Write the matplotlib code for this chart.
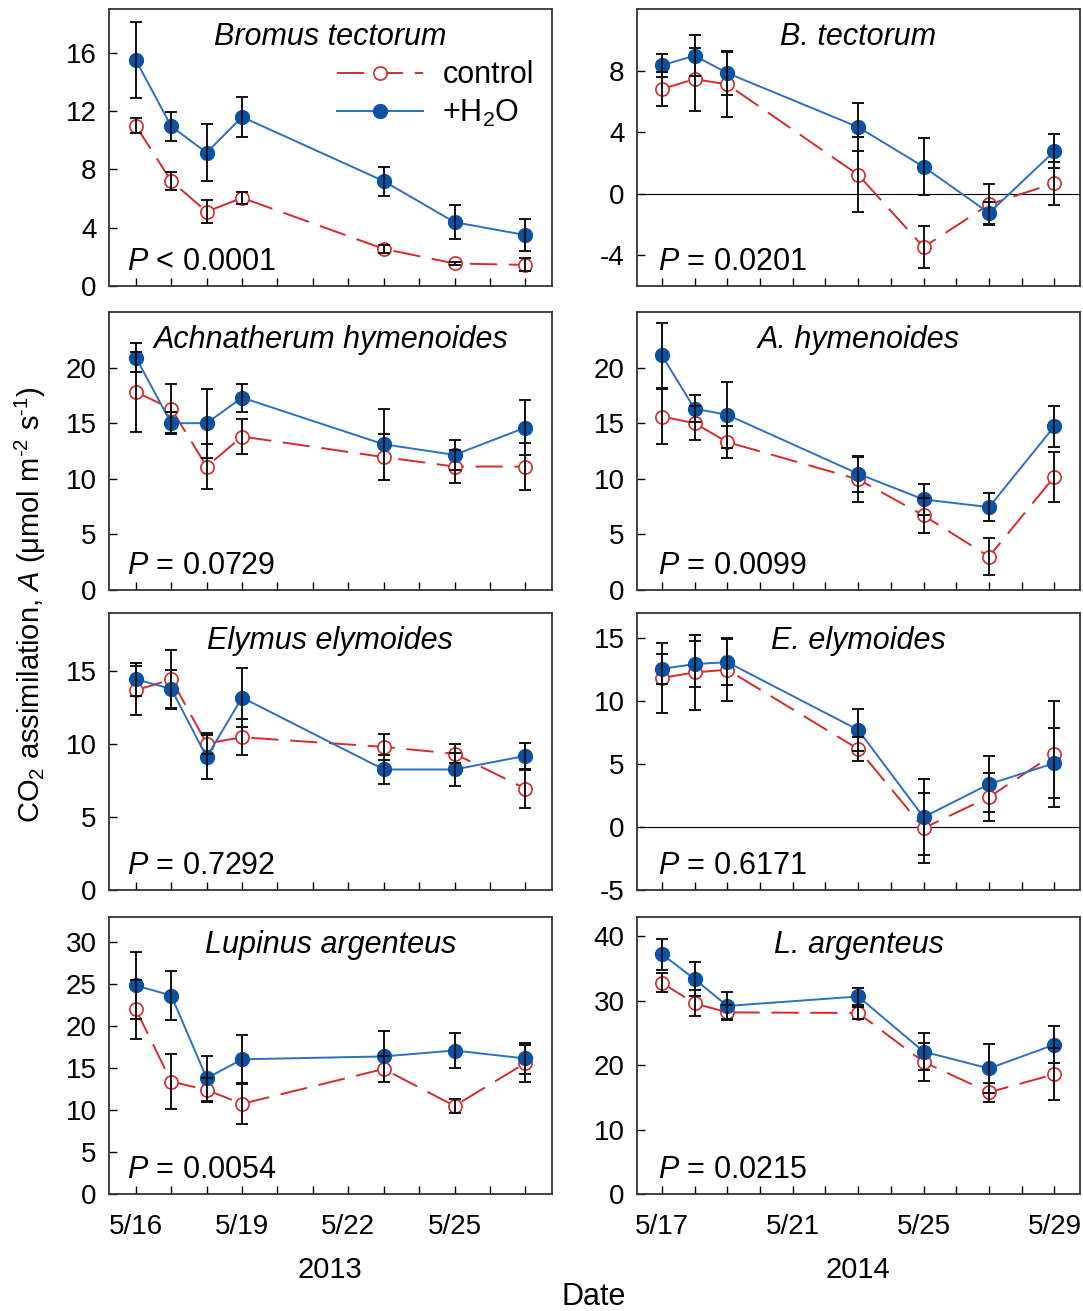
import matplotlib
matplotlib.use("Agg")
import matplotlib.pyplot as plt
import matplotlib.transforms as mtransforms
from matplotlib.ticker import FixedLocator

plt.rcParams['font.family'] = ['Liberation Sans', 'DejaVu Sans']
plt.rcParams['mathtext.fontset'] = 'custom'
plt.rcParams['mathtext.rm'] = 'Liberation Sans'
plt.rcParams['mathtext.it'] = 'Liberation Sans:italic'
plt.rcParams['axes.unicode_minus'] = False

# Measurement dates (day of May)
days_2013 = [16, 17, 18, 19, 23, 25, 27]
days_2014 = [17, 18, 19, 23, 25, 27, 29]

species_2013 = ["Bromus tectorum", "Achnatherum hymenoides", "Elymus elymoides", "Lupinus argenteus"]
species_2014 = ["B. tectorum", "A. hymenoides", "E. elymoides", "L. argenteus"]

# 2013 means and SE: control and watered (+H2O)
ctrl_2013 = [
    [11.0, 7.2, 5.1, 6.05, 2.55, 1.55, 1.45],
    [17.8, 16.3, 11.1, 13.8, 11.95, 11.1, 11.1],
    [13.7, 14.45, 10.05, 10.48, 9.82, 9.35, 6.96],
    [22.0, 13.4, 12.4, 10.75, 14.9, 10.5, 15.6],
]
ctrl_se_2013 = [
    [0.5, 0.6, 0.8, 0.4, 0.3, 0.12, 0.45],
    [3.6, 2.2, 2.0, 1.55, 2.1, 1.5, 2.15],
    [1.7, 2.0, 0.7, 1.25, 0.9, 0.65, 1.3],
    [3.55, 3.3, 1.4, 2.45, 1.6, 0.8, 2.2],
]
wet_2013 = [
    [15.5, 10.95, 9.15, 11.6, 7.2, 4.38, 3.5],
    [20.9, 15.0, 15.0, 17.3, 13.1, 12.15, 14.6],
    [14.45, 13.8, 9.12, 13.2, 8.27, 8.27, 9.2],
    [24.85, 23.65, 13.8, 16.05, 16.4, 17.1, 16.15],
]
wet_se_2013 = [
    [2.6, 1.0, 1.95, 1.35, 1.0, 1.15, 1.1],
    [1.3, 1.0, 3.1, 1.25, 3.2, 1.35, 2.5],
    [1.15, 1.3, 1.5, 2.0, 1.0, 1.1, 0.9],
    [3.95, 2.9, 2.7, 2.9, 3.0, 2.1, 1.85],
]

# 2014 means and SE
ctrl_2014 = [
    [6.8, 7.45, 7.1, 1.23, -3.47, -0.7, 0.69],
    [15.6, 15.0, 13.3, 9.95, 6.7, 3.0, 10.2],
    [11.85, 12.28, 12.5, 6.2, -0.08, 2.38, 5.82],
    [32.8, 29.6, 28.2, 28.1, 20.5, 15.8, 18.6],
]
ctrl_se_2014 = [
    [1.1, 2.05, 2.1, 2.45, 1.38, 1.3, 1.4],
    [2.5, 1.55, 1.45, 2.0, 1.55, 1.7, 2.25],
    [2.8, 3.0, 2.5, 0.95, 2.75, 1.9, 4.2],
    [1.45, 2.0, 1.1, 0.9, 2.95, 1.5, 4.0],
]
wet_2014 = [
    [8.34, 8.97, 7.84, 4.33, 1.75, -1.25, 2.76],
    [21.1, 16.3, 15.75, 10.45, 8.14, 7.45, 14.73],
    [12.57, 12.94, 13.1, 7.72, 0.79, 3.41, 5.08],
    [37.25, 33.37, 29.2, 30.67, 22.1, 19.5, 23.2],
]
wet_se_2014 = [
    [0.75, 1.35, 1.45, 1.55, 1.85, 0.7, 1.1],
    [2.95, 1.2, 3.0, 1.6, 1.4, 1.25, 1.85],
    [1.17, 1.8, 1.8, 1.65, 3.0, 2.2, 2.8],
    [2.4, 2.6, 2.2, 1.3, 2.9, 3.8, 2.9],
]

p_2013 = ["$P$ < 0.0001", "$P$ = 0.0729", "$P$ = 0.7292", "$P$ = 0.0054"]
p_2014 = ["$P$ = 0.0201", "$P$ = 0.0099", "$P$ = 0.6171", "$P$ = 0.0215"]

ylims_2013 = [(0, 19), (0, 25), (0, 19), (0, 33)]
yticks_2013 = [[0, 4, 8, 12, 16], [0, 5, 10, 15, 20], [0, 5, 10, 15], [0, 5, 10, 15, 20, 25, 30]]
ylims_2014 = [(-6, 12), (0, 25), (-5, 17), (0, 43)]
yticks_2014 = [[-4, 0, 4, 8], [0, 5, 10, 15, 20], [-5, 0, 5, 10, 15], [0, 10, 20, 30, 40]]

xlim_2013 = (15.24, 27.75)
xlim_2014 = (16.24, 29.78)
ticks_2013 = list(range(16, 28))
ticks_2014 = list(range(17, 30))
labeled_2013 = [16, 19, 22, 25]
labeled_2014 = [17, 21, 25, 29]

BLUE = "#0a52a4"
BLUE_LINE = "#2a6fc0"
RED = "#d42a2a"

fig = plt.figure(figsize=(10.83, 13.11), dpi=100)

row_bottoms = [0.7818, 0.5500, 0.3211, 0.0892]
row_heights = [0.2113, 0.2120, 0.2113, 0.2113]
col_lefts = [0.1006, 0.5882]
col_width = 0.409

# date labels sit slightly left of their tick marks
label_shift = mtransforms.ScaledTranslation(-0.08, 0, fig.dpi_scale_trans)


def draw_panel(ax, days, ctrl, ctrl_se, wet, wet_se, ylim, yticks, xlim, ticks,
               labeled, title, ptext, show_xlabels, zero_line, px):
    if zero_line:
        ax.axhline(0, color="black", lw=0.8, zorder=1)
    ctrl_line, = ax.plot(days, ctrl, color=RED, lw=1.4, marker="o", ms=9.5,
                         mfc="white", mec=RED, mew=1.2, zorder=3, label="control")
    ctrl_line.set_dashes((14, 6))
    wet_line, = ax.plot(days, wet, color=BLUE_LINE, lw=1.4, marker="o", ms=10,
                        mfc=BLUE, mec=BLUE, zorder=4, label="+H$_2$O")
    ax.errorbar(days, ctrl, yerr=ctrl_se, fmt="none", ecolor="#111111",
                elinewidth=1.4, capsize=4.5, capthick=1.4, zorder=5)
    ax.errorbar(days, wet, yerr=wet_se, fmt="none", ecolor="#111111",
                elinewidth=1.4, capsize=4.5, capthick=1.4, zorder=5)
    ax.set_xlim(*xlim)
    ax.set_ylim(*ylim)
    ax.set_yticks(yticks)
    ax.xaxis.set_major_locator(FixedLocator(ticks))
    if show_xlabels:
        ax.set_xticklabels([f"5/{d}" if d in labeled else "" for d in ticks])
        for lbl in ax.get_xticklabels():
            lbl.set_transform(lbl.get_transform() + label_shift)
    else:
        ax.set_xticklabels([])
    ax.tick_params(direction="in", length=6, width=1, labelsize=20, colors="black",
                   pad=9)
    ax.tick_params(axis="x", pad=14)
    for s in ax.spines.values():
        s.set_linewidth(1.3)
        s.set_color("#333333")
    ax.text(0.5, 0.9, title, transform=ax.transAxes, ha="center", va="center",
            fontsize=22, style="italic")
    ax.text(px, 0.058, ptext, transform=ax.transAxes, ha="left", va="baseline",
            fontsize=22)
    return ctrl_line, wet_line


for i in range(4):
    ax_l = fig.add_axes([col_lefts[0], row_bottoms[i], col_width, row_heights[i]])
    handles = draw_panel(ax_l, days_2013, ctrl_2013[i], ctrl_se_2013[i], wet_2013[i],
                         wet_se_2013[i], ylims_2013[i], yticks_2013[i], xlim_2013,
                         ticks_2013, labeled_2013, species_2013[i], p_2013[i],
                         i == 3, False, 0.040)
    if i == 0:
        ax_l.legend(handles=list(handles), loc="upper left",
                    bbox_to_anchor=(0.515, 0.815), frameon=False, fontsize=22,
                    handlelength=2.8, handletextpad=0.65, borderpad=0,
                    borderaxespad=0, labelspacing=0.25, numpoints=1)
    ax_r = fig.add_axes([col_lefts[1], row_bottoms[i], col_width, row_heights[i]])
    draw_panel(ax_r, days_2014, ctrl_2014[i], ctrl_se_2014[i], wet_2014[i],
               wet_se_2014[i], ylims_2014[i], yticks_2014[i], xlim_2014,
               ticks_2014, labeled_2014, species_2014[i], p_2014[i],
               i == 3, i in (0, 2), 0.048)

fig.text(0.305, 1 - 1270 / 1311, "2013", ha="center", va="center", fontsize=21)
fig.text(0.792, 1 - 1270 / 1311, "2014", ha="center", va="center", fontsize=21)
fig.text(0.548, 1 - 1297 / 1311, "Date", ha="center", va="center", fontsize=22)
fig.text(0.028, 1 - 605 / 1311,
         "CO$_2$ assimilation, $A$ (\u03bcmol m$^{\\text{-}2}$ s$^{\\text{-}1}$)",
         rotation=90, ha="center", va="center", fontsize=21)

fig.savefig("out.png", dpi=100)
